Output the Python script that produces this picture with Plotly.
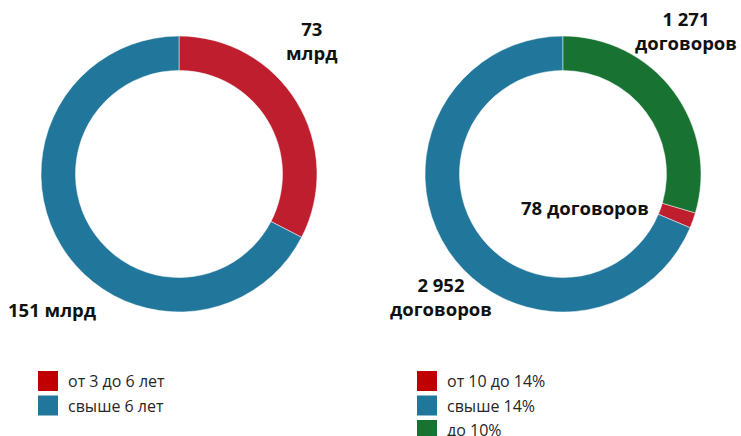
import plotly.graph_objects as go

W, H = 741, 436

# Left donut: loan term
left_labels = ["от 3 до 6 лет", "свыше 6 лет"]
left_values = [73, 151]
left_colors = ["#BE1E2D", "#21769B"]
left_legend_colors = ["#C00000", "#21769B"]
left_texts = ["73<br>млрд", "151 млрд"]

# Right donut: rate
right_labels = ["от 10 до 14%", "свыше 14%", "до 10%"]
right_values = [78, 2952, 1271]
right_colors = ["#BE1E2D", "#21769B", "#187232"]
right_legend_colors = ["#C00000", "#21769B", "#187232"]
right_texts = ["78 договоров", "2 952<br>договоров", "1 271<br>договоров"]

def px_x(x):
    return x / W

def px_y(y):
    return 1 - y / H

fig = go.Figure()

fig.add_trace(go.Pie(
    labels=left_labels, values=left_values, hole=0.75, sort=False,
    direction="clockwise", rotation=0,
    marker=dict(colors=left_colors, line=dict(color="white", width=0.5)),
    textinfo="none", hoverinfo="label+value", showlegend=False,
    domain=dict(x=[px_x(41), px_x(317)], y=[px_y(312), px_y(36)]),
))

green_share = right_values[2] / sum(right_values)
fig.add_trace(go.Pie(
    labels=right_labels, values=right_values, hole=0.75, sort=False,
    direction="clockwise", rotation=360 * green_share,
    marker=dict(colors=right_colors, line=dict(color="white", width=0.5)),
    textinfo="none", hoverinfo="label+value", showlegend=False,
    domain=dict(x=[px_x(425), px_x(701)], y=[px_y(312), px_y(36)]),
))

label_font = dict(family="Open Sans", size=18.5, color="#111111")
annots = [
    (left_texts[0], 312, 40),
    (left_texts[1], 52, 309),
    (right_texts[0], 585, 207),
    (right_texts[1], 441, 296),
    (right_texts[2], 686, 30),
]
annotations = []
for t, x, y in annots:
    annotations.append(dict(
        text="<b>" + t + "</b>", x=px_x(x), y=px_y(y), xref="paper", yref="paper",
        showarrow=False, xanchor="center", yanchor="middle", font=label_font,
        align="center",
    ))

shapes = []
legend_font = dict(family="Open Sans", size=16, color="#262626")

def add_legend(labels, colors, x0, y0):
    for i, (lab, col) in enumerate(zip(labels, colors)):
        yc = y0 + i * 24.5
        shapes.append(dict(
            type="rect", xref="paper", yref="paper",
            x0=px_x(x0), x1=px_x(x0 + 20), y0=px_y(yc - 10), y1=px_y(yc + 10),
            fillcolor=col, line=dict(width=0),
        ))
        annotations.append(dict(
            text=lab, x=px_x(x0 + 28), y=px_y(yc), xref="paper", yref="paper",
            showarrow=False, xanchor="left", yanchor="middle", font=legend_font,
        ))

add_legend(left_labels, left_legend_colors, 38, 381)
add_legend(right_labels, right_legend_colors, 417, 381)

fig.update_layout(
    width=W, height=H, margin=dict(l=0, r=0, t=0, b=0),
    paper_bgcolor="white", plot_bgcolor="white",
    annotations=annotations, shapes=shapes, showlegend=False,
)

fig.write_html(
    "out.html",
    config={"displayModeBar": False},
    post_script="document.body.style.margin='0';document.body.style.overflow='hidden';",
)
